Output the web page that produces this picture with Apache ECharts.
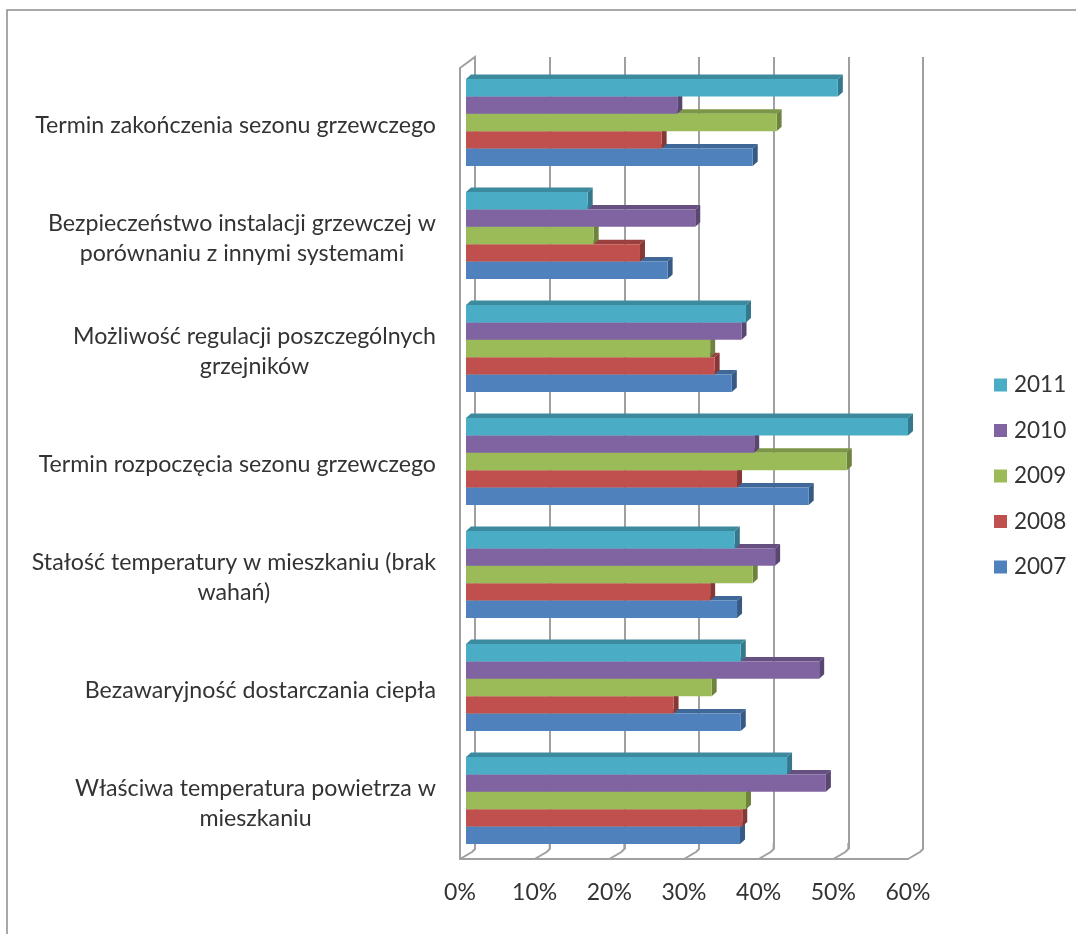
<!DOCTYPE html>
<html>
<head>
<meta charset="utf-8">
<style>html,body{margin:0;padding:0;background:#fff}#chart{width:1076px;height:934px}</style>
<script src="https://cdn.jsdelivr.net/npm/echarts@6/dist/echarts.min.js"></script>
</head>
<body>
<div id="chart"></div>
<script>
const categories = [
  'Termin zakończenia sezonu grzewczego',
  'Bezpieczeństwo instalacji grzewczej w\nporównaniu z innymi systemami',
  'Możliwość regulacji poszczególnych\ngrzejników',
  'Termin rozpoczęcia sezonu grzewczego',
  'Stałość temperatury w mieszkaniu (brak\nwahań)',
  'Bezawaryjność dostarczania ciepła',
  'Właściwa temperatura powietrza w\nmieszkaniu'
];
const values2007 = [38.4, 27.0, 35.6, 45.9, 36.3, 36.8, 36.7];
const values2008 = [26.2, 23.3, 33.3, 36.3, 32.7, 27.8, 37.0];
const values2009 = [41.6, 17.1, 32.7, 51.0, 38.4, 32.9, 37.5];
const values2010 = [28.3, 30.7, 36.9, 38.6, 41.4, 47.3, 48.2];
const values2011 = [49.8, 16.3, 37.5, 59.2, 36.0, 36.8, 43.0];
const percentTicks = [0, 10, 20, 30, 40, 50, 60];
const years = ['2007', '2008', '2009', '2010', '2011'];
const yearValues = [values2007, values2008, values2009, values2010, values2011];
const faceColors = ['#4F81BD', '#C0504D', '#9BBB59', '#8064A2', '#4BACC6'];
const topColors = ['#3F6797', '#9A403E', '#7C9647', '#665082', '#3C8A9E'];
const sideColors = ['#375A84', '#863836', '#6D833E', '#5A4672', '#35788B'];

const FONT = 'Lato, "Open Sans", sans-serif';
const TEXT = '#333333';
const WALL = '#a0a0a0';
const depthX = 5, depthY = 4.5;
const groupShare = 0.77;

// One 3D-looking bar: front face, top face and right side.
function barRenderer(seriesIdx) {
  return function (params, api) {
    const start = api.coord([0, api.value(1)]);
    const end = api.coord([api.value(0), api.value(1)]);
    const band = api.size([0, 1])[1];
    const h = band * groupShare / years.length;
    // 2011 sits at the top of each group, 2007 at the bottom.
    const y0 = start[1] - band * groupShare / 2 + (years.length - 1 - seriesIdx) * h;
    const y1 = y0 + h;
    const x0 = start[0], x1 = end[0];
    return {
      type: 'group',
      children: [
        { type: 'polygon', shape: { points: [[x0, y0], [x1, y0], [x1 + depthX, y0 - depthY], [x0 + depthX, y0 - depthY]] },
          style: { fill: topColors[seriesIdx] } },
        { type: 'polygon', shape: { points: [[x1, y0], [x1 + depthX, y0 - depthY], [x1 + depthX, y1 - depthY], [x1, y1]] },
          style: { fill: sideColors[seriesIdx] } },
        { type: 'rect', shape: { x: x0, y: y0, width: x1 - x0, height: h },
          style: { fill: faceColors[seriesIdx] } }
      ]
    };
  };
}

// Floor joints between the front axis and the back wall, plus the top-left corner.
function wallJoints(params, api) {
  const v = api.value(0);
  const cs = params.coordSys;
  const x = api.coord([v, 0])[0];
  const bottom = cs.y + cs.height;
  const lineStyle = { stroke: WALL, lineWidth: 2, fill: null };
  const children = [{
    type: 'polyline',
    shape: { points: [[x, bottom], [x + 12, bottom - 7], [x + 15, bottom - 10], [x + 15, bottom - 16]] },
    style: lineStyle
  }];
  if (v === 0) {
    children.push({
      type: 'polyline',
      shape: { points: [[x, cs.y], [x + 15, cs.y - 11], [x + 15, cs.y]] },
      style: lineStyle
    });
  }
  return { type: 'group', children: children };
}

const barSeries = years.map((year, i) => ({
  name: year,
  type: 'custom',
  xAxisIndex: 0,
  yAxisIndex: 0,
  z: 5 + i,
  itemStyle: { color: faceColors[i] },
  encode: { x: 0, y: 1 },
  renderItem: barRenderer(i),
  data: yearValues[i].map((v, c) => [v, c])
}));

const hiddenX = (extra) => Object.assign({
  type: 'value', min: 0, max: 60, interval: 10,
  axisLine: { show: false }, axisTick: { show: false }, axisLabel: { show: false }, splitLine: { show: false }
}, extra);
const hiddenY = (grid) => ({
  type: 'category', gridIndex: grid, inverse: true, data: categories,
  axisLine: { show: false }, axisTick: { show: false }, axisLabel: { show: false }, splitLine: { show: false }
});

const option = {
  backgroundColor: '#ffffff',
  animation: false,
  textStyle: { fontFamily: FONT },
  grid: [
    { left: 466, top: 66, width: 448, height: 791 },   // plane of the bars
    { left: 475, top: 57, width: 448, height: 792 },   // back wall
    { left: 460, top: 68, width: 448, height: 791 }    // front axes
  ],
  xAxis: [
    hiddenX({ gridIndex: 0 }),
    hiddenX({ gridIndex: 1, splitLine: { show: true, lineStyle: { color: WALL, width: 2 } } }),
    {
      type: 'value', gridIndex: 2, min: 0, max: 60, interval: 10, position: 'bottom',
      axisLine: { show: true, onZero: false, lineStyle: { color: WALL, width: 2 } },
      axisTick: { show: false }, splitLine: { show: false },
      axisLabel: { formatter: (v) => percentTicks.includes(v) ? v + '%' : '', color: TEXT, fontFamily: FONT, fontSize: 23, margin: 22 }
    }
  ],
  yAxis: [
    hiddenY(0),
    hiddenY(1),
    {
      type: 'category', gridIndex: 2, inverse: true, data: categories,
      axisLine: { show: true, onZero: false, lineStyle: { color: WALL, width: 2 } },
      axisTick: { show: false }, splitLine: { show: false },
      axisLabel: {
        interval: 0, margin: 24, lineHeight: 30, color: TEXT, padding: [3, 0, 0, 0],
        formatter: (v) => v.split('\n').map((l) => '{c|' + l + '}').join('\n'),
        rich: { c: { align: 'center', color: TEXT, fontFamily: FONT, fontSize: 23.2, lineHeight: 30 } }
      }
    }
  ],
  legend: {
    orient: 'vertical', left: 989, top: 367, itemWidth: 13, itemHeight: 13, itemGap: 19.5,
    icon: 'rect', selectedMode: false,
    data: years.slice().reverse(),
    textStyle: { color: TEXT, fontFamily: FONT, fontSize: 22.5, padding: [0, 0, 0, 2], height: 26, lineHeight: 26 }
  },
  series: [
    {
      name: 'joints', type: 'custom', xAxisIndex: 2, yAxisIndex: 2, z: 1,
      encode: { x: 0 }, renderItem: wallJoints, silent: true,
      data: percentTicks.map((v) => [v])
    }
  ].concat(barSeries),
  graphic: [{
    type: 'polyline', silent: true,
    shape: { points: [[7, 934], [7, 10], [1076, 10]] },
    style: { stroke: '#8c8c8c', lineWidth: 1.5, fill: null }
  }]
};

const chart = echarts.init(document.getElementById('chart'), null, { renderer: 'canvas' });
chart.setOption(option);
</script>
</body>
</html>
